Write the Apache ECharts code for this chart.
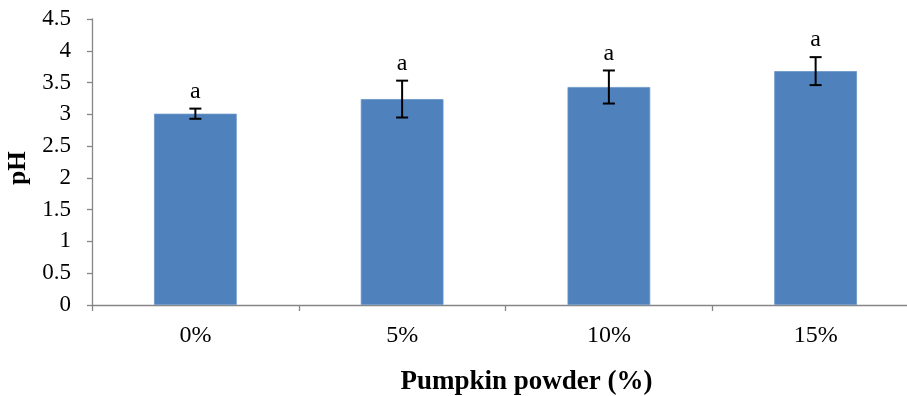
<!DOCTYPE html>
<html><head><meta charset="utf-8">
<script src="https://cdn.jsdelivr.net/npm/echarts@6/dist/echarts.min.js"></script>
<style>html,body{margin:0;padding:0;background:#fff}#c{width:907px;height:396px}</style>
</head><body><div id="c"></div>
<script>
const categories = ['0%', '5%', '10%', '15%'];
const phValues = [3.01, 3.24, 3.43, 3.68];
const phErrors = [0.08, 0.29, 0.26, 0.22];
const letters = ['a', 'a', 'a', 'a'];
const yTicks = [0, 0.5, 1, 1.5, 2, 2.5, 3, 3.5, 4, 4.5];

const chart = echarts.init(document.getElementById('c'), null, {renderer: 'canvas'});
const FONT = '"Liberation Serif", "Times New Roman", serif';
const errData = categories.map((c, i) => [i, phValues[i], phErrors[i], letters[i]]);

chart.setOption({
  animation: false,
  grid: {left: 92, right: -12, top: 19, bottom: 91, containLabel: false, outerBoundsMode: 'none'},
  xAxis: {
    type: 'category', data: categories, boundaryGap: true,
    name: 'Pumpkin powder (%)', nameLocation: 'middle', nameGap: 64,
    nameTextStyle: {fontFamily: FONT, fontSize: 27, fontWeight: 'bold', color: '#000', padding: [0, 0, 0, 42]},
    axisLine: {lineStyle: {color: '#868686', width: 1.3}},
    axisTick: {show: true, length: 6, alignWithLabel: false, lineStyle: {color: '#868686', width: 1.3}},
    axisLabel: {fontFamily: FONT, fontSize: 24, color: '#000', margin: 19}
  },
  yAxis: {
    type: 'value', min: 0, max: 4.5, interval: 0.5,
    name: 'pH', nameLocation: 'middle', nameGap: 61, nameRotate: 90,
    nameTextStyle: {fontFamily: FONT, fontSize: 25, fontWeight: 'bold', color: '#000', padding: [0, 12, 0, 0]},
    splitLine: {show: false},
    axisLine: {show: true, lineStyle: {color: '#868686', width: 1.3}},
    axisTick: {show: true, length: 5, lineStyle: {color: '#868686', width: 1.3}},
    axisLabel: {fontFamily: FONT, fontSize: 23, color: '#000', margin: 21,
      formatter: v => yTicks.indexOf(v) >= 0 ? String(v) : ''}
  },
  series: [
    {
      type: 'bar', data: phValues, barWidth: '40%',
      itemStyle: {color: '#4F81BD', borderColor: '#6A95C8', borderWidth: 0.8}
    },
    {
      type: 'custom', data: errData, z: 10,
      renderItem: function (params, api) {
        const x = api.value(0), v = api.value(1), e = api.value(2);
        const top = api.coord([x, v + e]);
        const bot = api.coord([x, v - e]);
        const hw = 6;
        const st = {stroke: '#000', lineWidth: 2};
        return {
          type: 'group', children: [
            {type: 'line', shape: {x1: top[0], y1: top[1], x2: bot[0], y2: bot[1]}, style: st},
            {type: 'line', shape: {x1: top[0] - hw, y1: top[1], x2: top[0] + hw, y2: top[1]}, style: st},
            {type: 'line', shape: {x1: bot[0] - hw, y1: bot[1], x2: bot[0] + hw, y2: bot[1]}, style: st},
            {type: 'text', style: {text: letters[params.dataIndex], x: top[0], y: top[1] - 5,
              textAlign: 'center', textVerticalAlign: 'bottom', font: '24px ' + FONT, fill: '#000'}}
          ]
        };
      }
    }
  ]
});
</script></body></html>
